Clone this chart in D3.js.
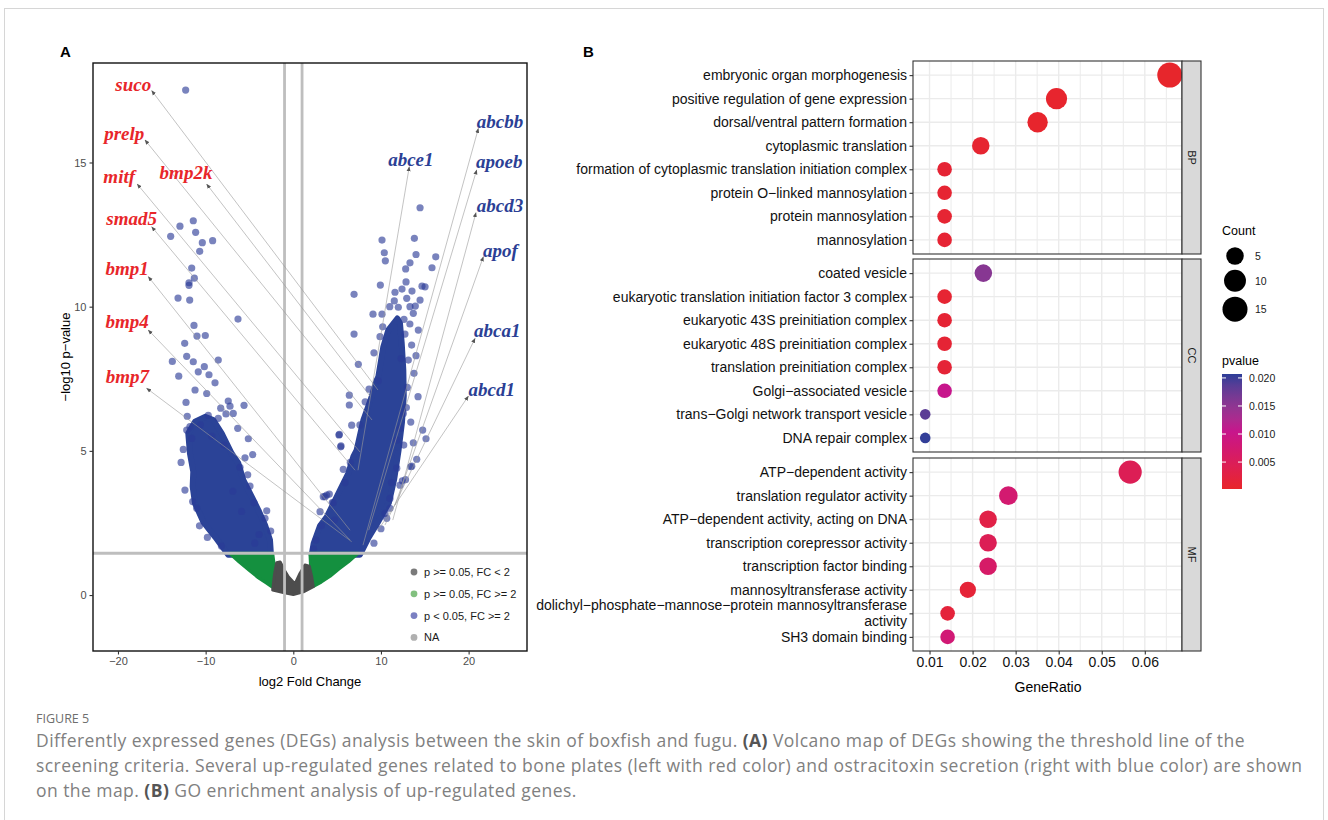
<!DOCTYPE html>
<html lang="en">
<head>
<meta charset="UTF-8">
<title>Figure 5</title>
<style>
  body { margin: 0; background: #fff; }
  svg text { font-family: "Liberation Sans", Arial, sans-serif; }
  svg text.gene { font-family: "Liberation Serif", "Times New Roman", serif; font-style: italic; font-weight: 700; }
  svg text.cap { font-family: "Open Sans", "Noto Sans", sans-serif; }
</style>
</head>
<body>
<svg id="fig" width="1328" height="820"></svg>

<script src="https://cdn.jsdelivr.net/npm/d3@7"></script>
<script>

// ---------- panel A data (log2FC, -log10 p) ----------
var xTicksA = [-20, -10, 0, 10, 20];
var yTicksA = [0, 5, 10, 15];
var fcCut = 1;
var pCut = 1.45;

// outlines of the dense parts of the cloud
var leftDense = [[-10.07,6.18],[-9.13,6.07],[-8.17,5.61],[-7.03,4.91],[-6.27,4.57],[-5.70,3.99],[-4.94,3.53],
  [-3.99,2.95],[-3.23,2.43],[-2.66,1.91],[-2.55,1.40],[-7.42,1.40],[-8.93,2.02],[-10.27,2.54],[-11.21,3.18],
  [-11.48,3.76],[-11.41,4.28],[-11.79,4.91],[-11.98,5.61],[-11.21,6.01]];
var rightDense = [[11.87,9.59],[12.17,9.42],[12.37,8.73],[12.55,7.80],[12.60,6.90],[12.40,6.00],[12.00,5.00],
  [11.50,4.00],[10.90,3.20],[9.60,2.50],[8.60,2.00],[7.60,1.40],[2.10,1.40],[2.32,1.79],[3.05,2.40],[3.81,2.70],
  [5.33,3.64],[6.28,4.22],[6.85,4.80],[7.23,5.03],[8.00,6.07],[8.94,6.88],[9.51,7.45],[9.70,7.57],[10.27,8.61],[10.84,9.19]];
var greenLeft = [[-7.3,1.45],[-2.35,1.45],[-2.2,1.1],[-2.12,0.7],[-2.3,0.25],[-3.0,0.4],[-4.0,0.6],[-5.0,0.85],[-6.2,1.15]];
var greenRight = [[1.9,1.45],[7.42,1.45],[6.3,1.15],[5.2,0.9],[4.2,0.65],[3.2,0.45],[2.3,0.3],[2.1,0.63],[1.95,1.1]];
var greyMid = [[-2.35,0.17],[-2.15,0.7],[-1.9,1.12],[-1.5,1.15],[-1.0,0.85],[-0.57,0.63],[0.19,0.38],[0.76,0.75],
  [1.33,1.04],[1.83,1.0],[2.1,0.63],[2.28,0.29],[1.14,0.11],[0,0.02],[-1.14,0.09]];

// scattered significant genes
var sparseLeft = [[-12.28,17.51],[-11.41,12.98],[-12.93,12.79],[-11.14,12.58],[-13.99,12.44],[-10.38,12.22],[-9.20,12.29],
  [-10.68,11.92],[-11.59,11.34],[-11.29,10.99],[-11.90,10.83],[-11.90,10.74],[-13.15,10.30],[-11.82,10.23],[-6.31,9.57],
  [-11.33,9.35],[-10.99,8.98],[-10.04,9.00],[-12.39,8.73],[-12.16,8.28],[-13.80,8.10],[-11.41,8.09],[-8.56,8.15],
  [-10.15,7.92],[-10.84,7.74],[-9.62,7.64],[-13.07,7.59],[-8.93,7.36],[-11.21,7.11],[-9.88,6.99],[-12.24,6.68],
  [-7.42,6.73],[-5.62,6.58],[-8.28,6.48],[-7.22,6.55],[-6.85,6.30],[-7.68,6.28],[-8.56,6.13],[-9.70,6.23],[-11.79,5.84],
  [-6.34,5.78],[-5.13,5.42],[-4.63,4.87],[-12.55,5.05],[-5.51,4.76],[-6.08,4.43],[-5.20,4.17],[-12.36,3.64],[-4.94,3.78],
  [-4.48,3.20],[-3.03,2.92],[-3.23,2.66],[-2.58,2.22],[-11.48,3.24],[-11.02,3.01],[-11.59,5.43],[-12.16,5.72],
  [-12.1,6.2],[-10.6,5.9],[-9.3,5.5],[-7.9,5.2],[-12.8,4.6],[-6.9,3.6],[-3.9,2.1],[-9.8,2.0],[-10.7,2.4],[-8.2,1.7],
  [-5.9,2.9],[-4.4,1.8]];
var sparseRight = [[14.46,13.43],[10.12,12.31],[13.81,12.37],[10.38,11.87],[10.50,11.59],[14.00,11.81],[16.25,11.73],
  [13.31,11.52],[12.82,11.31],[15.82,11.35],[12.86,10.86],[9.93,10.75],[12.40,10.61],[13.54,10.54],[14.68,10.71],
  [15.03,10.69],[6.93,10.43],[11.52,10.20],[12.94,10.29],[14.46,10.23],[11.98,9.98],[13.31,10.00],[13.92,10.02],
  [9.09,9.74],[10.12,9.74],[12.63,9.56],[13.69,9.77],[14.26,9.19],[12.74,9.05],[6.93,9.05],[9.89,8.96],[7.42,8.00],
  [13.50,8.67],[13.12,8.15],[13.77,7.69],[14.23,6.88],[8.64,7.14],[9.70,7.43],[6.39,6.93],[6.39,6.59],[6.66,5.89],
  [5.21,5.55],[5.44,5.17],[14.76,5.72],[15.14,5.42],[13.69,5.28],[14.08,4.71],[13.39,4.45],[12.44,3.96],[3.81,3.47],
  [3.42,3.41],[4.45,3.21],[3.05,2.89],[2.59,1.91],[11.03,3.01],[10.66,2.66],[5.25,5.57],[5.41,5.14],[5.70,4.36],
  [3.62,3.41],[4.11,3.50],[4.56,3.20],[13.51,4.47],[12.17,3.81],[11.03,3.35],[10.46,2.83],[12.17,5.78],[11.80,5.37],
  [12.55,6.30],[13.0,7.2],[12.9,6.5],[13.4,6.0],[12.6,5.2],[11.8,4.4],[12.8,4.0],[11.2,3.9],[10.0,2.3],[9.2,1.8],
  [13.3,9.4],[12.3,8.2],[14.0,8.3],[2.3,1.6],[3.2,2.4],[4.7,2.6],[5.9,3.9],[6.5,4.6],[7.6,5.9],[8.2,6.7],[9.2,8.4],
  [10.2,9.3],[11.0,10.0],[11.6,10.5]];

// labelled genes: point, arrow tip, label centre/baseline
var geneName  = ["suco","prelp","mitf","bmp2k","smad5","bmp1","bmp4","bmp7",
                 "abcbb","abce1","apoeb","abcd3","apof","abca1","abcd1"];
var geneGroup = ["bone","bone","bone","bone","bone","bone","bone","bone",
                 "toxin","toxin","toxin","toxin","toxin","toxin","toxin"];
var geneFC = [9.66, 8.98, 7.61, 8.75, 7.04, 6.47, 6.47, 6.66, 7.95, 7.38, 8.60, 11.35, 11.60, 10.46, 9.66];
var geneP  = [7.11, 6.07, 4.96, 6.90, 4.33, 2.25, 1.91, 1.85, 1.73, 4.33, 2.25, 2.60, 3.12, 2.43, 2.25];
var tipFC  = [-16.15,-16.92,-17.80,-9.88,-16.15,-16.54,-16.54,-16.73, 21.11,13.23,20.92,20.84,21.68,20.73,19.97];
var tipP   = [17.49,15.78,14.25,14.25,12.77,11.04,9.19,7.17, 16.18,14.85,14.74,13.26,11.73,8.90,6.90];
var labFC  = [-18.25,-19.29,-19.86,-12.24,-18.44,-18.95,-18.95,-18.92, 23.58,13.41,23.50,23.58,23.64,23.27,22.63];
var labP   = [17.48,15.78,14.29,14.42,12.83,11.10,9.26,7.35, 16.18,14.88,14.80,13.29,11.73,8.96,6.90];

var legendA = ["p >= 0.05, FC < 2", "p >= 0.05, FC >= 2", "p < 0.05, FC >= 2", "NA"];
var legendAColor = ["#7a7a7a", "#82c07f", "#7b80c2", "#b0b0b0"];

// ---------- panel B data ----------
var goTerm = ["embryonic organ morphogenesis","positive regulation of gene expression","dorsal/ventral pattern formation",
  "cytoplasmic translation","formation of cytoplasmic translation initiation complex","protein O\u2212linked mannosylation",
  "protein mannosylation","mannosylation",
  "coated vesicle","eukaryotic translation initiation factor 3 complex","eukaryotic 43S preinitiation complex",
  "eukaryotic 48S preinitiation complex","translation preinitiation complex","Golgi\u2212associated vesicle",
  "trans\u2212Golgi network transport vesicle","DNA repair complex",
  "ATP\u2212dependent activity","translation regulator activity","ATP\u2212dependent activity, acting on DNA",
  "transcription corepressor activity","transcription factor binding","mannosyltransferase activity",
  "dolichyl\u2212phosphate\u2212mannose\u2212protein mannosyltransferase\nactivity","SH3 domain binding"];
var goOnt = ["BP","BP","BP","BP","BP","BP","BP","BP","CC","CC","CC","CC","CC","CC","CC","CC",
             "MF","MF","MF","MF","MF","MF","MF","MF"];
var goRatio = [0.0658,0.0395,0.0351,0.0219,0.0135,0.0135,0.0135,0.0135,
               0.0225,0.0135,0.0135,0.0135,0.0135,0.0135,0.0090,0.0090,
               0.0566,0.0283,0.0236,0.0236,0.0236,0.0189,0.0142,0.0142];
var goCount = [15,9,8,5,3,3,3,3, 5,3,3,3,3,3,2,2, 12,6,5,5,5,4,3,3];
var goP = [0.0004,0.0006,0.0005,0.0008,0.0012,0.0010,0.0010,0.0011,
           0.0155,0.0010,0.0012,0.0012,0.0014,0.0105,0.0185,0.0205,
           0.0045,0.0075,0.0030,0.0045,0.0065,0.0015,0.0018,0.0080];
var ontologies = ["BP","CC","MF"];
var xTicksB = [0.01,0.02,0.03,0.04,0.05,0.06];
var countKeys = [5,10,15];
var pKeys = [0.005,0.010,0.015,0.020];

// ---------- drawing ----------
var svg = d3.select("#fig");

svg.append("rect").attr("x",4.5).attr("y",8.5).attr("width",1319).attr("height",840)
  .attr("fill","none").attr("stroke","#d6d6d6");

var defs = svg.append("defs");
defs.append("clipPath").attr("id","clipA").append("rect")
  .attr("x",93).attr("y",63).attr("width",434).attr("height",588);
defs.append("marker").attr("id","arr").attr("viewBox","0 0 10 10")
  .attr("refX",9).attr("refY",5).attr("markerWidth",5).attr("markerHeight",5)
  .attr("orient","auto").attr("markerUnits","userSpaceOnUse")
  .append("path").attr("d","M0,1L10,5L0,9Z").attr("fill","#555");

// ===== panel A =====
var xA = d3.scaleLinear().domain([-22.85, 26.66]).range([93, 527]);
var yA = d3.scaleLinear().domain([-1.94, 18.45]).range([651, 63]);

svg.append("text").attr("x",60).attr("y",57).attr("font-size",15).attr("font-weight",700).text("A");

var plotA = svg.append("g").attr("clip-path","url(#clipA)");
var outline = d3.line().x(function(d){ return xA(d[0]); }).y(function(d){ return yA(d[1]); })
  .curve(d3.curveLinearClosed);

[leftDense, rightDense].forEach(function(p){
  plotA.append("path").attr("d", outline(p)).attr("fill","#2b4397")
    .attr("stroke","#2b4397").attr("stroke-width",6).attr("stroke-linejoin","round");
});
plotA.selectAll("circle.sp").data(sparseLeft.concat(sparseRight)).enter().append("circle")
  .attr("class","sp").attr("cx",function(d){ return xA(d[0]); }).attr("cy",function(d){ return yA(d[1]); })
  .attr("r",3.6).attr("fill","#2b3a96").attr("fill-opacity",0.63);
[greenLeft, greenRight].forEach(function(p){
  plotA.append("path").attr("d", outline(p)).attr("fill","#14903f")
    .attr("stroke","#14903f").attr("stroke-width",3).attr("stroke-linejoin","round");
});
plotA.append("path").attr("d", outline(greyMid)).attr("fill","#4d4d4d")
  .attr("stroke","#4d4d4d").attr("stroke-width",3).attr("stroke-linejoin","round");

// threshold lines
[-fcCut, fcCut].forEach(function(v){
  plotA.append("line").attr("x1",xA(v)).attr("x2",xA(v)).attr("y1",63).attr("y2",651)
    .attr("stroke","#bebebe").attr("stroke-width",2.8);
});
plotA.append("line").attr("x1",93).attr("x2",527).attr("y1",yA(pCut)).attr("y2",yA(pCut))
  .attr("stroke","#bebebe").attr("stroke-width",2.8);

// repel segments and gene labels
geneName.forEach(function(g, i){
  plotA.append("line").attr("x1",xA(geneFC[i])).attr("y1",yA(geneP[i]))
    .attr("x2",xA(tipFC[i])).attr("y2",yA(tipP[i]))
    .attr("stroke","#9a9a9a").attr("stroke-width",0.6).attr("marker-end","url(#arr)");
  plotA.append("text").attr("class","gene").attr("x",xA(labFC[i])).attr("y",yA(labP[i]))
    .attr("text-anchor","middle").attr("font-size",19)
    .attr("fill", geneGroup[i] === "bone" ? "#e8262a" : "#2b3f95").text(g);
});

// legend A
legendA.forEach(function(t, i){
  var y = 572 + i * 21.8;
  svg.append("circle").attr("cx",414).attr("cy",y).attr("r",3.4).attr("fill",legendAColor[i]);
  svg.append("text").attr("x",424).attr("y",y + 4).attr("font-size",11).attr("fill","#1a1a1a").text(t);
});

svg.append("rect").attr("x",93).attr("y",63).attr("width",434).attr("height",588)
  .attr("fill","none").attr("stroke","#111").attr("stroke-width",1.4);

var axA = svg.append("g").attr("transform","translate(0,651)")
  .call(d3.axisBottom(xA).tickValues(xTicksA).tickSize(3.5).tickPadding(3));
var ayA = svg.append("g").attr("transform","translate(93,0)")
  .call(d3.axisLeft(yA).tickValues(yTicksA).tickSize(3.5).tickPadding(3));
[axA, ayA].forEach(function(a){
  a.select(".domain").remove();
  a.selectAll(".tick line").attr("stroke","#333").attr("stroke-width",1.1);
  a.selectAll(".tick text").attr("font-size",11).attr("fill","#4d4d4d");
});
svg.append("text").attr("x",310).attr("y",686).attr("text-anchor","middle").attr("font-size",13)
  .text("log2 Fold Change");
svg.append("text").attr("transform","translate(70,357) rotate(-90)").attr("text-anchor","middle")
  .attr("font-size",13).text("\u2212log10 p\u2212value");

// ===== panel B =====
svg.append("text").attr("x",583).attr("y",57).attr("font-size",15).attr("font-weight",700).text("B");

var ext = d3.extent(goRatio), padB = 0.05 * (ext[1] - ext[0]);
var xB = d3.scaleLinear().domain([ext[0] - padB, ext[1] + padB]).range([913, 1182]);
var rB = d3.scalePow().exponent(0.5).domain([0, d3.max(goCount) - d3.min(goCount)]).range([5.3, 12.5]);
var cB = d3.scaleLinear().domain([0.0002, 0.0105, 0.0207])
  .range(["#e8262a","#c7168c","#2d3e98"]).interpolate(d3.interpolateLab);
var panelTop = [61, 259, 458], panelH = 193;
var minorB = d3.range(0.01, 0.0686, 0.005);

ontologies.forEach(function(ont, k){
  var idx = d3.range(goTerm.length).filter(function(i){ return goOnt[i] === ont; });
  var top = panelTop[k];
  var yB = d3.scalePoint().domain(idx).range([top, top + panelH]).padding(0.6);
  var g = svg.append("g");
  minorB.forEach(function(v){
    var major = Math.abs(v * 100 - Math.round(v * 100)) < 1e-6;
    g.append("line").attr("x1",xB(v)).attr("x2",xB(v)).attr("y1",top).attr("y2",top + panelH)
      .attr("stroke","#ebebeb").attr("stroke-width", major ? 1.4 : 1.0);
  });
  idx.forEach(function(i){
    g.append("line").attr("x1",913).attr("x2",1182).attr("y1",yB(i)).attr("y2",yB(i))
      .attr("stroke","#ebebeb").attr("stroke-width",1.4);
  });
  g.selectAll("circle").data(idx).enter().append("circle")
    .attr("cx",function(i){ return xB(goRatio[i]); }).attr("cy",function(i){ return yB(i); })
    .attr("r",function(i){ return rB(goCount[i] - d3.min(goCount)); })
    .attr("fill",function(i){ return cB(goP[i]); });
  g.append("rect").attr("x",913).attr("y",top).attr("width",269).attr("height",panelH)
    .attr("fill","none").attr("stroke","#333").attr("stroke-width",1.1);
  g.append("rect").attr("x",1182).attr("y",top).attr("width",19).attr("height",panelH)
    .attr("fill","#d9d9d9").attr("stroke","#333").attr("stroke-width",1.1);
  g.append("text").attr("transform","translate(1188," + (top + panelH / 2) + ") rotate(90)")
    .attr("text-anchor","middle").attr("font-size",11).attr("fill","#1a1a1a").text(ont);

  var ay = g.append("g").attr("transform","translate(913,0)")
    .call(d3.axisLeft(yB).tickSize(3.5).tickFormat(""));
  ay.select(".domain").remove();
  ay.selectAll(".tick line").attr("stroke","#333").attr("stroke-width",1.1);
  idx.forEach(function(i){
    var lines = goTerm[i].split("\n");
    var t = g.append("text").attr("text-anchor","end").attr("font-size",14).attr("fill","#111");
    lines.forEach(function(s, j){
      t.append("tspan").attr("x",907)
        .attr("y", yB(i) + 5 + (j - (lines.length - 1) / 2) * 16).text(s);
    });
  });
});

var axB = svg.append("g").attr("transform","translate(0," + (panelTop[2] + panelH) + ")")
  .call(d3.axisBottom(xB).tickValues(xTicksB).tickFormat(d3.format(".2f")).tickSize(3.5).tickPadding(3));
axB.select(".domain").remove();
axB.selectAll(".tick line").attr("stroke","#333").attr("stroke-width",1.1);
axB.selectAll(".tick text").attr("font-size",14).attr("fill","#111");
svg.append("text").attr("x",1048).attr("y",692).attr("text-anchor","middle").attr("font-size",14)
  .text("GeneRatio");

// legend B: Count
svg.append("text").attr("x",1222).attr("y",235).attr("font-size",12.5).text("Count");
var ky = 256;
countKeys.forEach(function(c, i){
  var r = rB(c - d3.min(goCount));
  if (i > 0) ky += rB(countKeys[i - 1] - d3.min(goCount)) + r + 5;
  svg.append("circle").attr("cx",1235).attr("cy",ky).attr("r",r).attr("fill","#000");
  svg.append("text").attr("x",1255).attr("y",ky + 4).attr("font-size",10.5).attr("fill","#1a1a1a").text(c);
});

// legend B: pvalue colour bar
svg.append("text").attr("x",1222).attr("y",365).attr("font-size",12.5).text("pvalue");
var barY = d3.scaleLinear().domain([0.0002, 0.0207]).range([489, 374]);
var grad = defs.append("linearGradient").attr("id","pgrad").attr("x1",0).attr("x2",0).attr("y1",1).attr("y2",0);
d3.range(0, 1.0001, 0.1).forEach(function(f){
  grad.append("stop").attr("offset",f).attr("stop-color", cB(0.0002 + f * (0.0207 - 0.0002)));
});
svg.append("rect").attr("x",1222).attr("y",374).attr("width",20).attr("height",115).attr("fill","url(#pgrad)");
pKeys.forEach(function(p){
  var y = barY(p);
  svg.append("line").attr("x1",1222).attr("x2",1226).attr("y1",y).attr("y2",y).attr("stroke","#fff");
  svg.append("line").attr("x1",1238).attr("x2",1242).attr("y1",y).attr("y2",y).attr("stroke","#fff");
  svg.append("text").attr("x",1249).attr("y",y + 4).attr("font-size",10.5).attr("fill","#1a1a1a")
    .text(d3.format(".3f")(p));
});

// ===== caption =====
svg.append("text").attr("class","cap").attr("x",36).attr("y",723).attr("font-size",12.5)
  .attr("fill","#6e6e6e").text("FIGURE 5");
var capLines = [
  [["Differently expressed genes (DEGs) analysis between the skin of boxfish and fugu. ",0],["(A)",1],
   [" Volcano map of DEGs showing the threshold line of the",0]],
  [["screening criteria. Several up-regulated genes related to bone plates (left with red color) and ostracitoxin secretion (right with blue color) are shown",0]],
  [["on the map. ",0],["(B)",1],[" GO enrichment analysis of up-regulated genes.",0]]
];
capLines.forEach(function(parts, i){
  var t = svg.append("text").attr("class","cap").attr("x",36).attr("y",747 + i * 25)
    .attr("font-size",17.5).attr("letter-spacing",0.45).attr("fill","#808080").attr("xml:space","preserve");
  parts.forEach(function(p){
    t.append("tspan").attr("font-weight", p[1] ? 700 : 400).attr("fill", p[1] ? "#555" : null).text(p[0]);
  });
});

</script>
</body>
</html>
